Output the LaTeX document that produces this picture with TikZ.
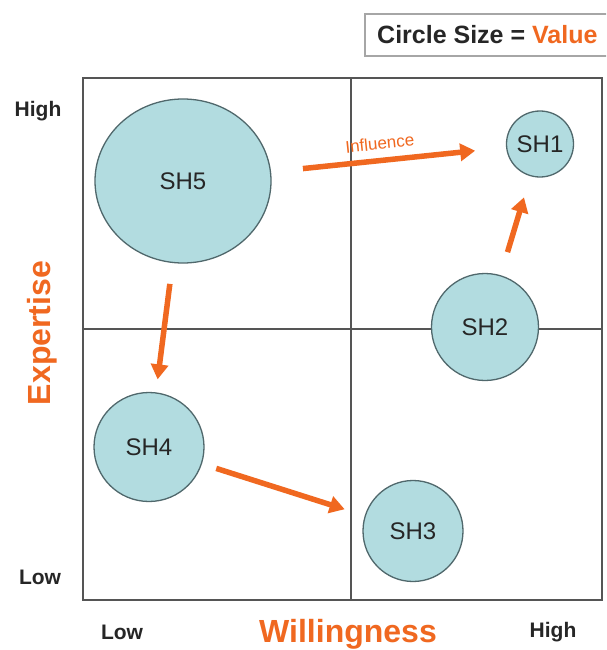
\documentclass[tikz,border=0pt]{standalone}
\usepackage{fontspec}
\setmainfont{Liberation Sans}
\usetikzlibrary{arrows.meta,shapes.geometric}
\definecolor{orng}{RGB}{240,104,32}
\definecolor{cfill}{RGB}{178,220,224}
\definecolor{cdraw}{RGB}{80,104,108}
\definecolor{gline}{RGB}{85,85,85}
\begin{document}
\begin{tikzpicture}[x=1pt,y=-1pt,
  sh/.style={ellipse,draw=cdraw,line width=1.3pt,fill=cfill,inner sep=0pt,
    font=\fontsize{24}{28}\selectfont,text=black!85},
  infl/.style={draw=orng,line width=5.5pt,-{Triangle[length=15pt,width=17pt]}},
  axl/.style={font=\fontsize{21}{25}\selectfont\bfseries,text=black!85},
  axt/.style={font=\fontsize{32}{36}\selectfont\bfseries,text=orng}]
\useasboundingbox (0,0) rectangle (606,650);
\clip (0,0) rectangle (606,650);
\fill[white] (0,0) rectangle (606,650);
% legend
\draw[gray!70,line width=1.6pt] (365,14) rectangle (640,56);
\node[anchor=west,inner sep=0pt,font=\fontsize{25}{29}\selectfont\bfseries,text=black!85] (legend) at (377,35)
  {Circle Size = \textcolor{orng}{Value}};
% frame and quadrant lines
\draw[gline,line width=1.8pt] (83,78) rectangle (602,600);
\draw[gline,line width=1.4pt] (351,78) -- (351,600);
\draw[gline,line width=1.4pt] (83,329) -- (602,329);
% stakeholders
\node[sh,minimum width=176pt,minimum height=164pt] (sh5) at (183,181) {SH5};
\node[sh,minimum width=67pt,minimum height=66pt] (sh1) at (540,144) {SH1};
\node[sh,minimum width=107pt,minimum height=107pt] (sh2) at (485,327) {SH2};
\node[sh,minimum width=110pt,minimum height=109pt] (sh4) at (149,447) {SH4};
\node[sh,minimum width=100pt,minimum height=101pt] (sh3) at (413,531) {SH3};
% influence arrows
\draw[infl,shorten <=32pt,shorten >=31pt] (sh5) -- (sh1)
  node[pos=0.47,above=7pt,sloped,inner sep=1pt,font=\fontsize{17}{20}\selectfont,text=orng] (infl) {Influence};
\draw[infl,shorten <=24pt,shorten >=22pt] (sh2) -- (sh1);
\draw[infl,shorten <=21pt,shorten >=13pt] (sh5) -- (sh4);
\draw[infl,shorten <=15pt,shorten >=21pt] (sh4) -- (sh3);
% axis labels
\node[axl] (yhigh) at (38,111) {High};
\node[axl] (ylow) at (40,577) {Low};
\node[axl] (xlow) at (122,632) {Low};
\node[axl] (xhigh) at (553,632) {High};
\node[axt] (xtitle) at (348,634) {Willingness};
\node[axt,rotate=90] (ytitle) at (42,333) {Expertise};
\end{tikzpicture}
\end{document}
